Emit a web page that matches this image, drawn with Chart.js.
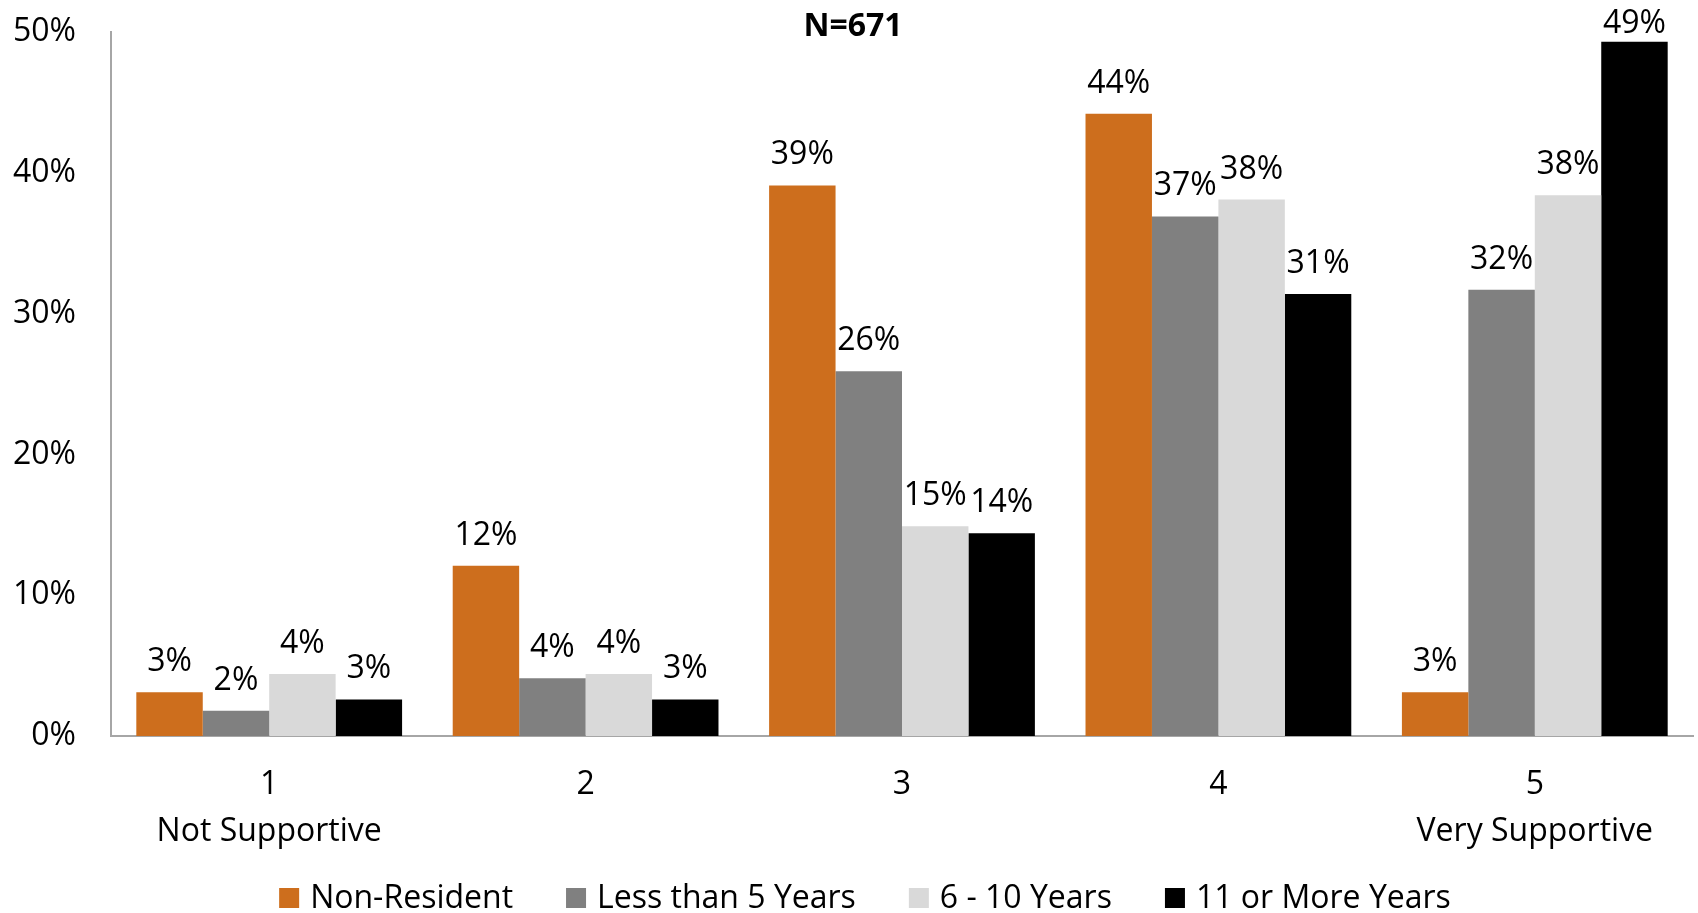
<!DOCTYPE html>
<html><head><meta charset="utf-8">
<script src="https://cdn.jsdelivr.net/npm/chart.js@4/dist/chart.umd.min.js"></script>
<style>html,body{margin:0;padding:0;background:#fff;overflow:hidden}#wrap{width:1698px;height:913px;position:relative}</style>
</head><body><div id="wrap"><canvas id="c"></canvas></div>
<script>
const titleText = 'N=671';
const categories = [['1', 'Not Supportive'], ['2'], ['3'], ['4'], ['5', 'Very Supportive']];
const seriesNames = ['Non-Resident', 'Less than 5 Years', '6 - 10 Years', '11 or More Years'];
const nonResident = [3.1, 12.1, 39.1, 44.2, 3.1];
const lessThan5 = [1.8, 4.1, 25.9, 36.9, 31.7];
const sixTo10 = [4.4, 4.4, 14.9, 38.1, 38.4];
const elevenPlus = [2.6, 2.6, 14.4, 31.4, 49.3];
const yTicks = [0, 10, 20, 30, 40, 50];
const colors = ['#CD6E1D', '#808080', '#D9D9D9', '#000000'];

const FONT = "'Open Sans', 'Noto Sans', sans-serif";
const FS = 32;

const labelPlugin = {
  id: 'barLabels',
  afterDatasetsDraw(chart) {
    const ctx = chart.ctx;
    ctx.save();
    ctx.font = FS + 'px ' + FONT;
    ctx.fillStyle = '#000';
    ctx.textAlign = 'center';
    ctx.textBaseline = 'alphabetic';
    chart.data.datasets.forEach((ds, i) => {
      const meta = chart.getDatasetMeta(i);
      meta.data.forEach((el, j) => {
        const y = Math.max(el.y - 21, chart.chartArea.top + 1);
        ctx.fillText(Math.round(ds.data[j]) + '%', el.x, y);
      });
    });
    ctx.restore();
  }
};

const titlePlugin = {
  id: 'topTitle',
  afterDraw(chart) {
    const ctx = chart.ctx;
    ctx.save();
    ctx.font = 'bold ' + FS + 'px ' + FONT;
    ctx.fillStyle = '#000';
    ctx.textAlign = 'center';
    ctx.textBaseline = 'middle';
    ctx.fillText(titleText, chart.width / 2 + 4, chart.chartArea.top - 5);
    ctx.restore();
  }
};

// legend drawn from the datasets (labels + colours)
const legendPlugin = {
  id: 'bottomLegend',
  afterDraw(chart) {
    const ctx = chart.ctx;
    ctx.save();
    ctx.font = FS + 'px ' + FONT;
    ctx.textBaseline = 'middle';
    ctx.textAlign = 'left';
    const box = 20, gapText = 11, gapItem = 53;
    const items = chart.data.datasets.map(ds => ({ text: ds.label, color: ds.backgroundColor, w: ctx.measureText(ds.label).width }));
    let total = items.reduce((a, it) => a + box + gapText + it.w, 0) + gapItem * (items.length - 1);
    let x = 865 - total / 2;
    const cy = 898;
    items.forEach(it => {
      ctx.fillStyle = it.color;
      ctx.fillRect(x, cy - box / 2, box, box);
      ctx.fillStyle = '#000';
      ctx.fillText(it.text, x + box + gapText, cy + 1);
      x += box + gapText + it.w + gapItem;
    });
    ctx.restore();
  }
};

const allSeries = [nonResident, lessThan5, sixTo10, elevenPlus];

new Chart(document.getElementById('c'), {
  type: 'bar',
  data: {
    labels: categories,
    datasets: allSeries.map((d, i) => ({
      label: seriesNames[i],
      data: d,
      backgroundColor: colors[i],
      borderWidth: 0,
      barPercentage: 1.0,
      categoryPercentage: 0.84
    }))
  },
  options: {
    responsive: true,
    maintainAspectRatio: false,
    animation: false,
    layout: { padding: { top: 32, right: 5, bottom: 0, left: 0 } },
    plugins: {
      legend: { display: false },
      title: { display: false },
      tooltip: { enabled: false }
    },
    scales: {
      x: {
        grid: { display: false, drawTicks: false },
        border: { color: '#A6A6A6', width: 2 },
        ticks: { font: { family: FONT, size: FS, lineHeight: 1.47 }, color: '#000', padding: 25, maxRotation: 0, autoSkip: false },
        afterFit(s) { s.height = 177; }
      },
      y: {
        min: 0, max: 50,
        grid: { display: false, drawTicks: false },
        border: { color: '#A6A6A6', width: 2 },
        afterBuildTicks(s) { s.ticks = yTicks.map(v => ({ value: v })); },
        ticks: { font: { family: FONT, size: FS }, color: '#000', padding: 35, callback: v => v + '%' },
        afterFit(s) { s.width = 111; s.paddingTop = 0; s.paddingBottom = 0; }
      }
    }
  },
  plugins: [labelPlugin, titlePlugin, legendPlugin]
});
</script>
</body></html>
